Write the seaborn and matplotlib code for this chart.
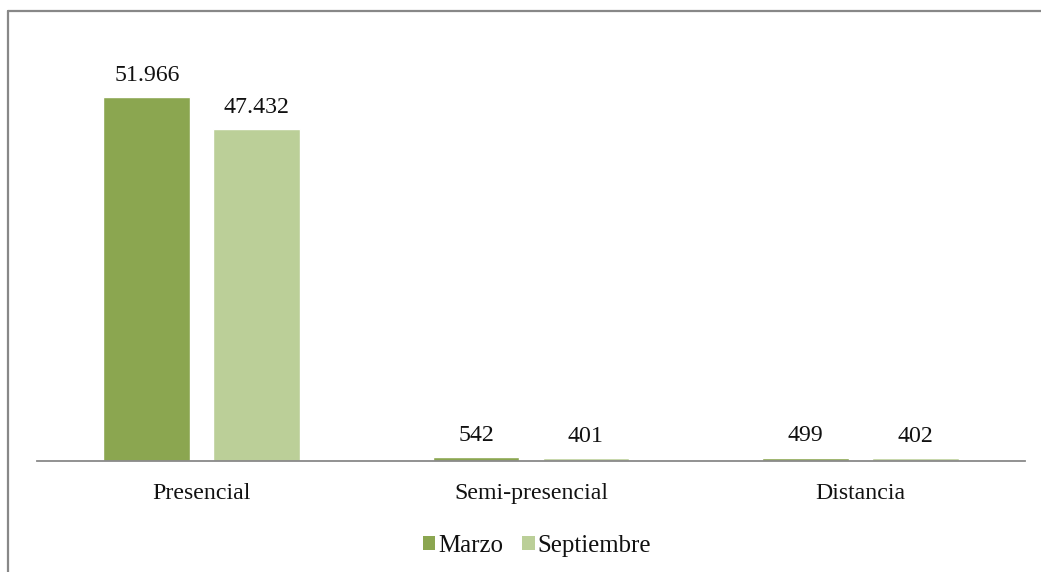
import matplotlib
matplotlib.use("Agg")
import matplotlib.pyplot as plt
import seaborn as sns
import pandas as pd
from matplotlib.lines import Line2D
from matplotlib.patches import Patch

categorias = ["Presencial", "Semi-presencial", "Distancia"]
marzo = [51966, 542, 499]
septiembre = [47432, 401, 402]
series = ["Marzo", "Septiembre"]
colores = ["#8BA650", "#BBCF98"]

df = pd.DataFrame({
    "Modalidad": categorias * 2,
    "Periodo": [series[0]] * len(categorias) + [series[1]] * len(categorias),
    "Alumnos": marzo + septiembre,
})

sns.set_theme(style="white")
plt.rcParams["font.family"] = ["Liberation Serif", "DejaVu Serif"]
FS = 17.2

fig = plt.figure(figsize=(10.41, 5.72), dpi=100)
ax = fig.add_axes([37 / 1041, 1 - 461 / 572, (1025 - 37) / 1041, (461 - 40) / 572])

sns.barplot(data=df, x="Modalidad", y="Alumnos", hue="Periodo",
            order=categorias, hue_order=series, palette=colores,
            width=0.667, gap=0.21, saturation=1, legend=False, ax=ax)

def fmt(v):
    return f"{v:,.0f}".replace(",", ".")

for cont in ax.containers:
    ax.bar_label(cont, labels=[fmt(b.get_height()) for b in cont],
                 padding=8, fontsize=FS, color="#111111")

ax.set_xlim(-0.5, 2.5)
ax.set_ylim(0, 60104)
ax.set_yticks([])
ax.set_xlabel("")
ax.set_ylabel("")
for s in ["top", "right", "left"]:
    ax.spines[s].set_visible(False)
ax.spines["bottom"].set_color("#898989")
ax.spines["bottom"].set_linewidth(1.3)
ax.tick_params(axis="x", length=0, pad=15.5, labelsize=FS, colors="#111111")

handles = [Patch(facecolor=c, edgecolor="none", label=l) for c, l in zip(colores, series)]
fig.legend(handles=handles, loc="center", bbox_to_anchor=(537 / 1041, 1 - 546 / 572),
           ncol=2, frameon=False, fontsize=17.9, handlelength=0.5, handleheight=0.5,
           handletextpad=0.12, columnspacing=0.78, labelcolor="#111111",
           borderpad=0, borderaxespad=0)

# outer frame (top and left edges)
fig.add_artist(Line2D([8 / 1041, 8 / 1041], [0, 1 - 11 / 572],
                      transform=fig.transFigure, color="#888888", lw=1.6))
fig.add_artist(Line2D([8 / 1041, 1], [1 - 11 / 572, 1 - 11 / 572],
                      transform=fig.transFigure, color="#888888", lw=1.6))

fig.savefig("out.png", dpi=100, facecolor="white")
